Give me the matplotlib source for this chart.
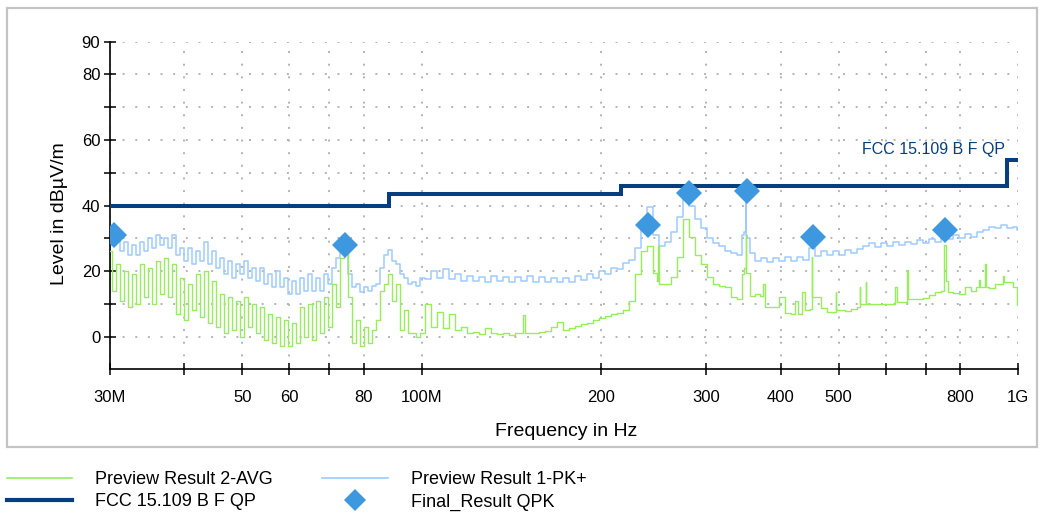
import matplotlib
matplotlib.use('Agg')
import matplotlib.pyplot as plt
from matplotlib.lines import Line2D
from matplotlib.patches import Rectangle

plt.rcParams['font.family'] = ['Liberation Sans', 'DejaVu Sans']

# ---------------- data (MHz / dBuV/m) ----------------
freq_low = [30.0, 30.47, 30.94, 31.42, 31.91, 32.41, 32.92, 33.43, 33.95, 34.48,
            35.01, 35.56, 36.11, 36.67, 37.24, 37.82, 38.41, 39.01, 39.62, 40.23,
            40.86, 41.49, 42.14, 42.80, 43.46, 44.14, 44.83, 45.52, 46.23, 46.95,
            47.68, 48.42, 49.18, 49.94, 50.72, 51.51, 52.31, 53.12, 53.95, 54.79,
            55.64, 56.51, 57.39, 58.28, 59.19, 60.11, 61.04, 61.99, 62.96, 63.94,
            64.93, 65.94, 66.97, 68.01, 69.07, 70.14, 71.23, 72.34, 73.47, 74.61,
            75.77, 76.95, 78.15, 79.36, 80.60, 81.85, 83.13, 84.42, 85.73, 87.07,
            88.42, 89.80, 91.20, 92.62, 94.06, 95.52, 97.01, 98.52, 100.05]

pk_low = [31, 28, 30, 26, 29, 25, 28, 25, 29, 26,
          30, 27, 31, 28, 30, 27, 31, 25, 27, 23,
          27, 22, 26, 23, 29, 22, 26, 21, 24, 19,
          23, 18, 22, 19, 23, 18, 21, 17, 21, 16,
          19, 15, 20, 15, 18, 13, 17, 13, 18, 14,
          19, 14, 18, 14, 19, 16, 21, 24, 26.5, 25,
          19, 15, 16, 13.5, 15, 14, 15.5, 16, 21, 25,
          26.5, 23, 22, 19, 18, 16, 16.5, 15.5, 18]

avg_low = [26, 14, 22, 11, 20, 9, 19, 10, 22, 12,
           21, 10, 23, 13, 24, 12, 22, 7, 18, 5,
           16, 8, 19, 6, 20, 4, 17, 3, 13, 1,
           12, 2, 11, 0, 12, 3, 10, 1, 9, -1,
           7, -2, 6, -3, 5, -3, 4, -2, 9, 0,
           10, -1, 11, 1, 12, 3, 16, 9, 24, 25.5,
           12, -2, 5, -3, 3, -2, 2, 5, 14, 16,
           19, 11, 16, 2, 8, 1, 1, 0, 1]

freq_pk_high = [102.3, 104.7, 107.2, 109.7, 112.3, 114.9, 117.6, 120.4, 123.2, 126.1,
                129.1, 132.1, 135.2, 138.4, 141.6, 144.9, 148.3, 151.8, 155.3, 159.0,
                162.7, 166.5, 170.4, 174.4, 178.5, 182.7, 187.0, 191.4, 195.9, 200.4,
                205.1, 209.9, 214.9, 219.9, 225.1, 230.4, 235.8, 241.3, 247.0, 252.8,
                258.7, 264.8, 271.0, 277.3, 283.8, 290.5, 297.3, 304.3, 311.4, 318.7,
                326.2, 333.8, 341.6, 346.0, 348.8, 349.7, 350.6, 352.0, 357.9, 366.2,
                374.8, 383.6, 392.6, 401.8, 411.2, 420.9, 430.7, 440.8, 451.2, 461.7,
                472.6, 483.6, 495.0, 506.6, 518.4, 530.6, 543.0, 555.8, 568.8, 582.1,
                595.8, 609.7, 624.0, 638.6, 653.6, 668.9, 684.6, 700.7, 717.1, 733.9,
                751.1, 768.7, 786.7, 805.2, 824.0, 843.4, 863.1, 883.4, 904.1, 925.3,
                947.0, 969.2, 991.6, 1000.0]

pk_high = [17.5, 20, 18, 20.5, 17.5, 19, 17, 18.5, 17, 18.3,
           16.8, 18.5, 17, 18.2, 16.8, 18.3, 17, 18.5, 16.8, 18.2,
           16.5, 18, 16.5, 18, 16.8, 18.5, 17.2, 19, 18, 20,
           19, 21, 20.5, 22.5, 23.5, 27, 33, 39.5, 31, 27.5,
           29, 32, 36.5, 42, 40, 36, 33, 30, 28.5, 27.5,
           26, 25.5, 25, 31, 32, 44, 31, 30, 25.5, 23,
           24, 22.8, 24, 23, 24.2, 23.2, 24.3, 23.5, 27, 24.5,
           26, 25, 26.2, 25, 26.3, 25.4, 26.6, 27.5, 28.6, 27.3,
           28.5, 27.5, 28.8, 27.8, 29, 28.2, 29.5, 28.5, 29.8, 29,
           30.5, 29.8, 31, 30.2, 31.3, 30.5, 31.8, 32.5, 33.5, 33,
           34, 33.2, 33.5, 32.6]

freq_avg_high = [102.3, 104.7, 107.2, 109.7, 112.3, 114.9, 117.6, 120.4, 123.2, 126.1,
                 129.1, 132.1, 135.2, 138.4, 141.6, 144.9, 147.2, 148.3, 149.4, 151.8,
                 155.3, 159.0, 162.7, 166.5, 170.4, 174.4, 178.5, 182.7, 187.0, 191.4,
                 195.9, 200.4, 205.1, 209.9, 214.9, 219.9, 225.1, 230.4, 235.8, 241.3,
                 247.0, 249.0, 249.9, 250.8, 252.8, 258.7, 264.8, 271.0, 277.3, 283.8,
                 290.5, 297.3, 304.3, 311.4, 318.7, 326.2, 333.8, 341.6, 346.0, 348.8,
                 349.7, 350.6, 352.0, 357.9, 366.2, 372.5, 374.8, 377.0, 383.6, 392.6,
                 401.8, 411.2, 420.9, 424.3, 430.7, 437.6, 440.8, 446.2, 450.0, 451.2,
                 452.4, 461.7, 472.6, 483.6, 493.5, 495.0, 496.5, 506.6, 518.4, 530.6,
                 541.5, 543.0, 544.5, 549.0, 554.2, 555.8, 557.4, 568.8, 582.1, 595.8,
                 609.7, 621.0, 624.0, 627.0, 638.6, 651.0, 653.6, 656.2, 668.9, 684.6,
                 700.7, 717.1, 733.9, 751.1, 754.5, 758.0, 768.7, 786.7, 805.2, 824.0,
                 843.4, 860.3, 863.1, 866.0, 880.5, 883.4, 886.3, 904.1, 925.3, 944.0,
                 947.0, 950.0, 969.2, 991.6, 1000.0]

avg_high = [10, 3, 7.5, 2.5, 7, 2, 3, 1, 1.5, 0.8,
            2.5, 1, 0.8, 1.2, 0.6, 1, 1, 6.5, 1, 1,
            1.2, 1.5, 1.8, 3, 4.5, 2, 2.5, 3.2, 3.8, 4.2,
            5, 5.8, 6.3, 6.8, 7.2, 8, 11, 19, 26, 27.5,
            19.5, 17, 27.5, 16, 16, 16, 18.3, 24.4, 36, 30.5,
            25, 22, 18.3, 16, 15.5, 15, 12, 11.5, 19, 21,
            31, 19.5, 19.5, 12.5, 13, 12.5, 15.9, 9, 9, 9,
            12, 7.3, 7, 10.7, 7, 13.7, 8, 8.2, 8.5, 24.4,
            12, 12, 8.8, 7.6, 7.6, 13.5, 8, 8, 7.8, 8.5,
            9, 15, 10, 10, 10, 16.5, 10, 10, 10, 10,
            10, 10, 15, 10.5, 10.5, 10.5, 20.4, 11.5, 11.5, 11.5,
            11.8, 12.8, 13.5, 14, 28, 17, 13.5, 13.2, 13, 15.2,
            14, 15, 17.4, 15, 15, 22, 15, 14.8, 15.9, 15.9,
            18.6, 16.8, 16.8, 15, 9.5]

limit_freq = [30, 88, 216, 960, 1000]
limit_level = [40, 43.5, 46, 54, 54]

qpk_freq = [30.5, 74.4, 239.9, 280.4, 350.8, 453.7, 754.5]
qpk_level = [31.0, 27.9, 34.0, 43.8, 44.3, 30.3, 32.4]

xticks = [30, 40, 50, 60, 70, 80, 100, 200, 300, 400, 500, 600, 700, 800, 1000]
xticklabels = ['30M', '', '50', '60', '', '80', '100M', '200', '300', '400', '500',
               '', '', '800', '1G']
yticks = [0, 10, 20, 30, 40, 50, 60, 70, 80, 90]
yticklabels = ['0', '', '20', '', '40', '', '60', '', '80', '90']

# ---------------- styling ----------------
C_AVG = '#96ee5c'
C_PK = '#9ccbff'
C_LIM = '#053f80'
C_QPK = '#3d98df'

W, H = 1045, 512
fig = plt.figure(figsize=(W / 100, H / 100), dpi=100)
fig.patch.set_facecolor('white')


def fx(x):
    return x / W


def fy(y):
    return 1 - y / H


ax = fig.add_axes([fx(110), fy(369.3), (1018 - 110) / W, (369.3 - 41.7) / H])
ax.set_xscale('log')
ax.set_xlim(30, 1000)
ax.set_ylim(-10, 90)

freq_pk = freq_low + freq_pk_high
pk = pk_low + pk_high
freq_avg = freq_low + freq_avg_high
avg = avg_low + avg_high

ax.plot(freq_pk, pk, color=C_PK, lw=1.1, drawstyle='steps-mid', zorder=3)
ax.plot(freq_avg, avg, color=C_AVG, lw=1.0, drawstyle='steps-mid', zorder=4)
ax.plot(limit_freq, limit_level, color=C_LIM, lw=2.9, drawstyle='steps-post',
        solid_joinstyle='miter', zorder=5)
ax.plot(qpk_freq, qpk_level, linestyle='none', marker='D', markersize=13,
        color=C_QPK, markeredgewidth=0, zorder=6)

ax.text(952, 57, 'FCC 15.109 B F QP', color=C_LIM, fontsize=11.5,
        ha='right', va='center', zorder=7)

ax.set_xticks(xticks)
ax.set_xticklabels(xticklabels)
ax.xaxis.set_minor_locator(matplotlib.ticker.NullLocator())
ax.set_yticks(yticks)
ax.set_yticklabels(yticklabels)

ax.grid(True, color='#b4b4b4', linestyle=(0, (1, 5.5)), lw=1.4)
for s in ['top', 'right']:
    ax.spines[s].set_visible(False)
for s in ['left', 'bottom']:
    ax.spines[s].set_linewidth(1.2)
ax.tick_params(axis='both', direction='inout', length=8, width=1.1, labelsize=12)
ax.tick_params(axis='x', pad=11)
ax.tick_params(axis='y', pad=3)

ax.set_xlabel('Frequency in Hz', fontsize=14)
ax.set_ylabel('Level in dBµV/m', fontsize=14)
ax.xaxis.set_label_coords((566 - 110) / 908, (369.3 - 432) / 327.6)
ax.xaxis.label.set_va('center')
ax.yaxis.set_label_coords((60 - 110) / 908, (369.3 - 214) / 327.6)
ax.yaxis.label.set_va('center')

# outer frame
fig.add_artist(Rectangle((fx(7), fy(447)), (1037 - 7) / W, (447 - 8) / H,
                         transform=fig.transFigure, fill=False,
                         edgecolor='#c4c4c4', lw=1.6))

# legend (manual, below frame)
fs = 13
fig.add_artist(Line2D([fx(7), fx(72)], [fy(478), fy(478)], color=C_AVG, lw=1.2,
                      transform=fig.transFigure))
fig.text(fx(95), fy(480), 'Preview Result 2-AVG', fontsize=fs, va='center', ha='left')
fig.add_artist(Line2D([fx(322), fx(388)], [fy(478), fy(478)], color=C_PK, lw=1.2,
                      transform=fig.transFigure))
fig.text(fx(411), fy(480), 'Preview Result 1-PK+', fontsize=fs, va='center', ha='left')
fig.add_artist(Line2D([fx(7), fx(72)], [fy(500), fy(500)], color=C_LIM, lw=3,
                      transform=fig.transFigure))
fig.text(fx(95), fy(502), 'FCC 15.109 B F QP', fontsize=fs, va='center', ha='left')
fig.add_artist(Line2D([fx(355)], [fy(500)], linestyle='none', marker='D',
                      markersize=11, color=C_QPK, markeredgewidth=0,
                      transform=fig.transFigure))
fig.text(fx(411), fy(502), 'Final_Result QPK', fontsize=fs, va='center', ha='left')

fig.savefig('out.png', dpi=100)
